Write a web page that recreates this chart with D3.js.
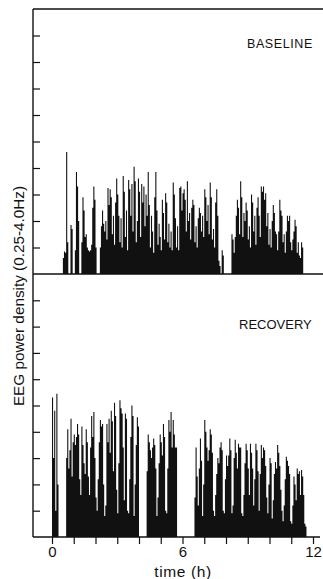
<!DOCTYPE html>
<html>
<head>
<meta charset="utf-8">
<script src="https://cdn.jsdelivr.net/npm/d3@7"></script>
<style>
  html, body { margin: 0; padding: 0; background: #fff; }
  svg { display: block; }
  text { font-family: "Liberation Sans", Arial, sans-serif; fill: #111; }
</style>
</head>
<body>
<svg id="chart" width="323" height="579"></svg>
<script>
// Slow-wave EEG power density (0.25-4.0 Hz), 3-min bins, in axis-tick units.
const binHours = 0.05;

const baselineStart = 0.5; // h
const baselineValues = [
  0.6, 0.85, 0.8, 4.6, 1.2, 0, 0, 1.85, 1.7, 0,
  0, 0.9, 3.85, 3.3, 2.0, 0, 0, 1.2, 2.9, 2.4,
  1.4, 1.5, 1.0, 0.9, 0.85, 0.9, 1.1, 2.5, 3.3, 2.8,
  1.0, 0, 0, 0, 1.0, 1.8, 2.4, 1.9, 1.6, 2.0,
  1.3, 3.25, 2.6, 3.2, 2.9, 1.5, 2.2, 1.1, 2.7, 3.6,
  3.0, 2.2, 1.2, 2.1, 1.0, 3.7, 3.1, 1.4, 2.4, 0.9,
  3.55, 3.2, 2.2, 3.4, 1.6, 4.05, 3.5, 1.2, 2.0, 3.6,
  3.1, 1.4, 3.4, 2.7, 3.3, 1.8, 3.0, 2.2, 3.85, 2.6,
  1.0, 2.2, 1.6, 0.8, 2.9, 3.85, 2.4, 1.1, 1.9, 1.4,
  0.9, 2.8, 2.3, 1.3, 3.05, 2.7, 1.2, 1.9, 1.0, 1.6,
  0.9, 3.45, 3.0, 2.1, 1.0, 1.8, 0.9, 3.25, 3.3, 2.4,
  3.05, 3.2, 2.8, 1.6, 3.5, 2.0, 2.3, 1.3, 2.5, 2.8,
  2.6, 1.2, 1.8, 1.0, 2.1, 2.5, 2.3, 1.6, 2.2, 1.4,
  3.2, 2.9, 2.0, 2.6, 1.5, 3.45, 2.9, 1.3, 1.7, 1.0,
  2.7, 3.2, 2.2, 0.5, 0.3, 0, 0.9, 0.7, 0, 0,
  0, 0, 0, 0, 0, 1.5, 1.3, 0.8, 1.4, 2.2,
  2.8, 2.5, 1.5, 3.5, 2.9, 1.4, 2.3, 2.0, 2.7, 2.4,
  1.3, 1.8, 1.0, 3.0, 2.7, 1.6, 2.2, 1.1, 2.5, 2.9,
  2.2, 1.4, 3.3, 3.1, 3.3, 2.8, 3.05, 1.8, 2.3, 1.1,
  1.7, 1.0, 2.0, 2.6, 2.3, 1.6, 1.5, 0.9, 1.6, 2.8,
  2.4, 2.2, 1.2, 1.5, 0.8, 1.6, 2.2, 2.0, 2.2, 1.2,
  0.9, 1.3, 1.6, 2.05, 1.8, 0.8, 1.2, 0.7, 0.6, 1.2, 1.0
];

const recoveryStart = 0; // h
const recoveryValues = [
  5.3, 3.0, 4.8, 1.0, 5.45, 2.0, 0, 0, 0, 0,
  0, 0, 0, 3.0, 4.1, 2.6, 3.3, 4.5, 2.3, 3.6,
  3.9, 3.5, 3.8, 4.3, 3.9, 2.2, 1.6, 4.2, 3.5, 2.8,
  2.4, 4.1, 3.6, 2.3, 1.6, 3.4, 4.6, 3.8, 4.75, 3.0,
  1.5, 1.0, 2.2, 3.6, 4.45, 4.2, 4.3, 2.0, 0.8, 1.2,
  4.3, 3.6, 4.5, 3.2, 4.8, 4.4, 2.5, 5.1, 4.6, 1.8,
  0.9, 2.8, 5.2, 4.9, 4.7, 3.4, 1.4, 4.7, 4.5, 1.0,
  0.9, 2.2, 3.8, 5.0, 4.6, 0.8, 2.0, 3.5, 4.55, 4.2,
  0, 0, 0, 0, 0, 0, 0, 2.5, 3.9, 3.6,
  3.3, 3.0, 3.4, 3.75, 3.5, 2.6, 0.8, 1.5, 2.8, 3.9,
  3.6, 3.1, 4.3, 3.8, 1.0, 0.9, 2.6, 4.45, 4.0, 4.75,
  3.4, 4.45, 3.9, 3.4, 3.4, 0, 0, 0, 0, 0,
  0, 0, 0, 0, 0, 0, 0, 0, 0, 0,
  0, 1.5, 3.4, 2.3, 1.2, 2.6, 3.75, 2.9, 0.8, 2.0,
  4.45, 4.0, 3.4, 2.9, 3.3, 4.1, 3.9, 3.2, 1.0, 0.8,
  1.6, 2.4, 3.0, 2.8, 3.4, 3.6, 3.3, 1.0, 0.9, 2.2,
  3.1, 2.7, 3.1, 3.75, 3.3, 0.9, 1.2, 3.0, 3.7, 3.2,
  2.6, 3.55, 3.4, 3.4, 0.9, 0.8, 1.6, 2.8, 3.55, 3.3,
  2.6, 1.6, 3.55, 3.2, 2.6, 1.2, 2.2, 3.55, 3.3, 2.5,
  1.0, 2.4, 3.5, 3.0, 3.4, 3.3, 2.7, 1.5, 0.9, 2.0,
  3.0, 2.8, 0.7, 1.4, 2.4, 2.85, 2.6, 3.5, 3.2, 2.7,
  1.8, 1.0, 0.6, 1.2, 2.2, 3.05, 2.9, 2.7, 2.4, 0.6,
  0.5, 1.2, 2.3, 2.0, 1.4, 2.6, 2.4, 2.5, 1.6, 2.55,
  2.3, 1.6, 0.5, 0.4
];

const hourTicks = d3.range(0, 13);
const hourLabels = [0, 6, 12];
const yTickValues = d3.range(1, 10);

const panelTitles = ["BASELINE", "RECOVERY"];
const yAxisTitle = "EEG power density (0.25-4.0Hz)";
const xAxisTitle = "time (h)";

const svg = d3.select("#chart");
const ink = "#111";

const x = d3.scaleLinear().domain([0, 12]).range([52, 313]);
const yTop = d3.scaleLinear().domain([0, 10]).range([274, 9]);
const yBottom = d3.scaleLinear().domain([0, 10]).range([537, 274]);

// Each bin is drawn as a step of one area path, so neighbouring bins join solidly
function drawSeries(values, start, y) {
  const rows = values.map((v, i) => ({ t: start + i * binHours, v }));
  rows.push({ t: start + values.length * binHours, v: 0 });
  const area = d3.area()
    .curve(d3.curveStepAfter)
    .x(d => x(d.t))
    .y0(y(0))
    .y1(d => y(d.v));
  svg.append("path")
    .datum(rows)
    .attr("d", area)
    .attr("fill", ink);
}

drawSeries(baselineValues, baselineStart, yTop);
drawSeries(recoveryValues, recoveryStart, yBottom);

// Frame lines: top edge, shared middle baseline, bottom time axis
const frame = svg.append("g").attr("stroke", ink).attr("stroke-width", 1.4);
frame.append("line").attr("x1", 33).attr("x2", 323).attr("y1", yTop(10)).attr("y2", yTop(10));
frame.append("line").attr("x1", 33).attr("x2", 323).attr("y1", yTop(0)).attr("y2", yTop(0));
frame.append("line").attr("x1", 33).attr("x2", 320).attr("y1", yBottom(0)).attr("y2", yBottom(0));
frame.append("line").attr("x1", 33).attr("x2", 33).attr("y1", yTop(10)).attr("y2", yBottom(0));

// Inward ticks on the shared y axis (no numeric labels)
function yTicks(y) {
  const g = svg.append("g")
    .attr("transform", "translate(33,0)")
    .call(d3.axisRight(y).tickValues(yTickValues).tickSize(7).tickSizeOuter(0).tickFormat(""));
  g.select(".domain").remove();
  g.selectAll(".tick line").attr("stroke", ink).attr("stroke-width", 1.2);
}
yTicks(yTop);
yTicks(yBottom);

// Time axis
const xg = svg.append("g")
  .attr("transform", `translate(0,${yBottom(0)})`)
  .call(d3.axisBottom(x).tickValues(hourTicks).tickSize(7).tickPadding(2)
    .tickFormat(d => hourLabels.includes(d) ? d : ""));
xg.select(".domain").remove();
xg.selectAll(".tick line").attr("stroke", ink).attr("stroke-width", 1.2);
xg.selectAll(".tick text")
  .attr("font-family", "'Liberation Sans', Arial, sans-serif")
  .attr("font-size", 15)
  .attr("fill", ink);

svg.append("text")
  .attr("x", 183).attr("y", 577)
  .attr("text-anchor", "middle")
  .attr("font-size", 15.5)
  .attr("letter-spacing", 0.6)
  .text(xAxisTitle);

svg.append("text")
  .attr("transform", "translate(24,296) rotate(-90)")
  .attr("text-anchor", "middle")
  .attr("font-size", 15.3)
  .text(yAxisTitle);

svg.append("text")
  .attr("x", 247).attr("y", 48)
  .attr("font-size", 12.5)
  .attr("letter-spacing", 0.6)
  .text(panelTitles[0]);

svg.append("text")
  .attr("x", 239).attr("y", 329)
  .attr("font-size", 13)
  .text(panelTitles[1]);
</script>
</body>
</html>
